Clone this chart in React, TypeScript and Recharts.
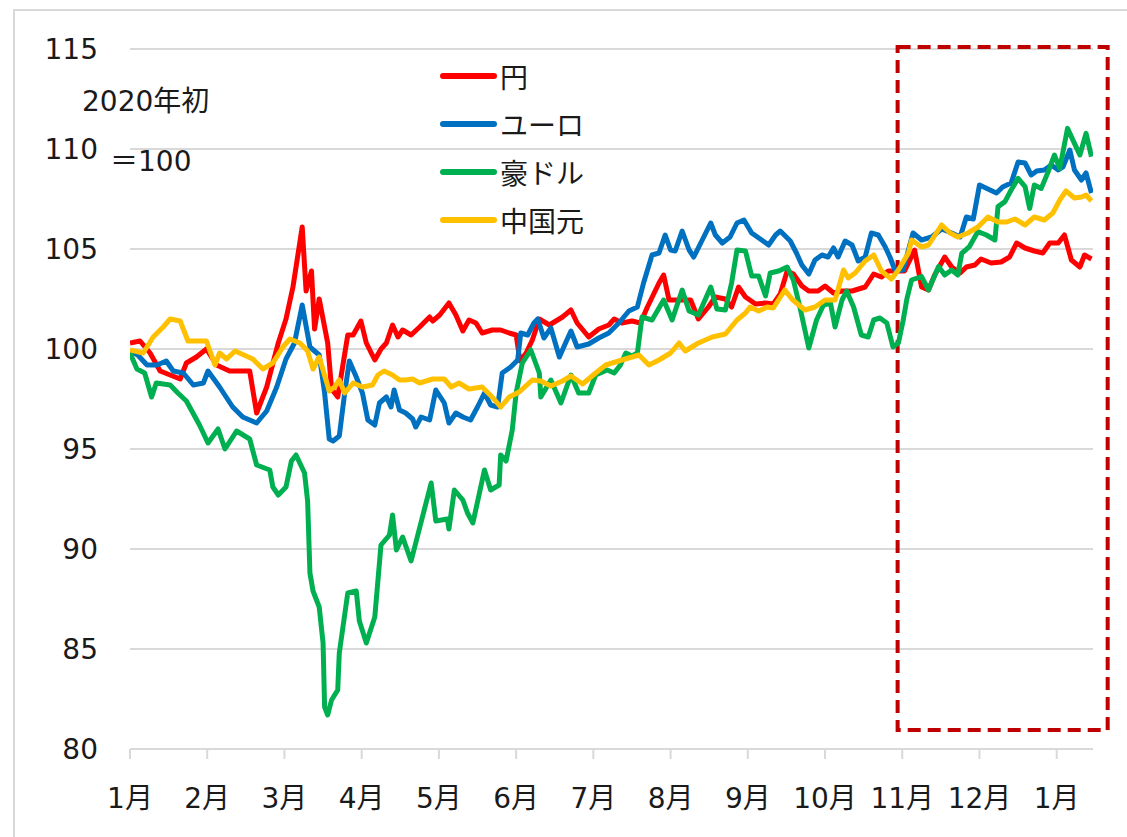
import React from 'react';
import {
  LineChart,
  Line,
  XAxis,
  YAxis,
  CartesianGrid,
  ReferenceArea,
  Legend,
} from 'recharts';

// x = months since start of 2020 (0 = 1月, 12 = 翌年1月)
const monthLabels = ['1月', '2月', '3月', '4月', '5月', '6月', '7月', '8月', '9月', '10月', '11月', '12月', '1月'];
const yTicks = [80, 85, 90, 95, 100, 105, 110, 115];

const yen: [number, number][] = [
  [0, 100.3], [0.13, 100.4], [0.26, 99.8], [0.39, 98.9], [0.52, 98.7], [0.65, 98.5], [0.73, 99.3], [0.86, 99.6],
  [0.99, 100.0], [1.12, 99.2], [1.29, 98.9], [1.55, 98.9], [1.64, 96.8], [1.77, 98.1], [1.92, 100.3], [2.02, 101.5],
  [2.11, 103.1], [2.23, 106.1], [2.28, 102.9], [2.35, 103.9], [2.39, 101.0], [2.45, 102.5], [2.56, 100.3], [2.61, 98.0],
  [2.69, 97.6], [2.82, 100.7], [2.89, 100.7], [2.99, 101.4], [3.06, 100.3], [3.17, 99.45], [3.25, 100.0], [3.32, 100.3],
  [3.4, 101.2], [3.47, 100.6], [3.53, 100.95], [3.64, 100.7], [3.75, 101.1], [3.88, 101.6], [3.92, 101.4], [4.01, 101.7],
  [4.13, 102.3], [4.22, 101.7], [4.31, 100.9], [4.39, 101.45], [4.48, 101.3], [4.56, 100.8], [4.69, 100.95], [4.8, 100.95],
  [4.91, 100.8], [5.0, 100.7], [5.05, 99.4], [5.13, 99.8], [5.21, 100.45], [5.3, 101.5], [5.43, 101.2], [5.6, 101.6],
  [5.71, 101.95], [5.79, 101.3], [5.94, 100.6], [6.07, 101.0], [6.2, 101.2], [6.27, 101.5], [6.37, 101.3], [6.5, 101.4],
  [6.61, 101.3], [6.7, 102.1], [6.85, 103.3], [6.91, 103.7], [6.98, 102.45], [7.15, 102.45], [7.26, 102.45], [7.36, 101.5],
  [7.49, 102.1], [7.58, 102.6], [7.71, 102.5], [7.79, 102.1], [7.88, 103.1], [7.97, 102.6], [8.1, 102.25], [8.23, 102.3],
  [8.33, 102.25], [8.42, 102.75], [8.51, 103.9], [8.59, 103.75], [8.7, 103.15], [8.79, 102.9], [8.91, 102.9], [9.0, 103.15],
  [9.11, 102.8], [9.22, 102.9], [9.35, 102.9], [9.52, 103.1], [9.63, 103.75], [9.73, 103.6], [9.82, 103.9], [9.91, 103.9],
  [10.03, 103.9], [10.16, 104.95], [10.25, 103.1], [10.34, 102.95], [10.42, 103.7], [10.55, 104.6], [10.64, 104.1],
  [10.75, 103.8], [10.83, 104.1], [10.94, 104.2], [11.02, 104.5], [11.15, 104.3], [11.28, 104.35], [11.39, 104.6],
  [11.48, 105.3], [11.59, 105.05], [11.71, 104.9], [11.82, 104.8], [11.91, 105.3], [12.02, 105.3], [12.1, 105.7],
  [12.19, 104.45], [12.3, 104.1], [12.36, 104.7], [12.45, 104.5],
];

const euro: [number, number][] = [
  [0, 99.9], [0.1, 99.7], [0.22, 99.2], [0.35, 99.2], [0.47, 99.4], [0.56, 98.9], [0.69, 98.8], [0.82, 98.2],
  [0.95, 98.3], [1.01, 98.9], [1.16, 98.1], [1.33, 97.1], [1.46, 96.6], [1.64, 96.3], [1.77, 96.9], [1.9, 98.1],
  [2.02, 99.5], [2.13, 100.3], [2.23, 102.2], [2.33, 100.1], [2.45, 99.7], [2.52, 97.8], [2.58, 95.5], [2.63, 95.4],
  [2.71, 95.65], [2.78, 97.8], [2.84, 99.4], [2.93, 98.6], [3.01, 97.8], [3.08, 96.45], [3.17, 96.2], [3.23, 97.3],
  [3.32, 97.6], [3.38, 97.1], [3.42, 97.95], [3.49, 96.95], [3.57, 96.8], [3.66, 96.5], [3.7, 96.1], [3.77, 96.6],
  [3.88, 96.45], [3.96, 97.95], [4.07, 97.3], [4.13, 96.3], [4.22, 96.8], [4.31, 96.6], [4.41, 96.45], [4.5, 97.1],
  [4.59, 97.8], [4.67, 97.2], [4.76, 97.1], [4.82, 98.8], [4.93, 99.1], [5.02, 99.45], [5.06, 100.8], [5.15, 100.7],
  [5.23, 101.3], [5.28, 101.5], [5.36, 100.55], [5.45, 101.05], [5.56, 99.6], [5.64, 100.3], [5.71, 100.9], [5.79, 100.1],
  [5.94, 100.25], [6.07, 100.55], [6.2, 100.8], [6.33, 101.3], [6.46, 101.9], [6.57, 102.1], [6.65, 103.3], [6.76, 104.7],
  [6.85, 104.8], [6.93, 105.7], [7.0, 104.95], [7.06, 104.9], [7.15, 105.9], [7.24, 104.95], [7.3, 104.6], [7.41, 105.45],
  [7.52, 106.3], [7.58, 105.7], [7.67, 105.3], [7.77, 105.6], [7.86, 106.3], [7.95, 106.45], [8.05, 105.8], [8.18, 105.45],
  [8.27, 105.2], [8.36, 105.7], [8.42, 105.9], [8.55, 105.4], [8.63, 104.8], [8.7, 104.2], [8.79, 103.75], [8.87, 104.45],
  [8.96, 104.7], [9.04, 104.6], [9.11, 105.05], [9.17, 104.6], [9.26, 105.4], [9.35, 105.2], [9.43, 104.4], [9.52, 104.6],
  [9.6, 105.8], [9.69, 105.7], [9.78, 105.1], [9.84, 104.6], [9.91, 103.9], [10.01, 103.95], [10.14, 105.8],
  [10.25, 105.45], [10.38, 105.6], [10.51, 106.0], [10.64, 105.8], [10.75, 105.6], [10.83, 106.6], [10.92, 106.5],
  [11.0, 108.2], [11.11, 108.0], [11.22, 107.8], [11.3, 108.1], [11.41, 108.3], [11.5, 109.35], [11.59, 109.3],
  [11.67, 108.7], [11.74, 108.9], [11.84, 108.95], [11.93, 109.2], [12.02, 108.95], [12.08, 109.1], [12.17, 109.95],
  [12.23, 108.95], [12.32, 108.45], [12.38, 108.8], [12.45, 107.8],
];

const aud: [number, number][] = [
  [0, 99.8], [0.09, 99.0], [0.19, 98.8], [0.28, 97.6], [0.34, 98.3], [0.52, 98.2], [0.62, 97.8], [0.73, 97.4],
  [0.9, 96.2], [1.01, 95.3], [1.14, 96.0], [1.23, 95.0], [1.38, 95.9], [1.55, 95.5], [1.64, 94.2], [1.81, 93.95],
  [1.85, 93.1], [1.92, 92.7], [2.02, 93.1], [2.09, 94.4], [2.15, 94.7], [2.26, 93.8], [2.3, 92.4], [2.33, 88.8],
  [2.37, 87.9], [2.45, 87.1], [2.5, 85.3], [2.52, 82.1], [2.56, 81.7], [2.61, 82.45], [2.69, 82.95], [2.71, 84.8],
  [2.82, 87.8], [2.93, 87.9], [2.97, 86.4], [3.06, 85.3], [3.17, 86.6], [3.25, 90.2], [3.36, 90.7], [3.4, 91.7],
  [3.45, 89.95], [3.53, 90.6], [3.64, 89.4], [3.72, 90.6], [3.9, 93.3], [3.96, 91.4], [4.11, 91.5], [4.13, 91.0],
  [4.2, 92.95], [4.31, 92.45], [4.37, 91.8], [4.44, 91.3], [4.59, 93.95], [4.67, 92.95], [4.78, 93.2], [4.8, 94.7],
  [4.87, 94.4], [4.95, 95.95], [5.0, 97.8], [5.08, 99.3], [5.19, 99.95], [5.3, 98.8], [5.32, 97.6], [5.45, 98.45],
  [5.58, 97.3], [5.71, 98.7], [5.81, 97.8], [5.94, 97.8], [6.03, 98.7], [6.18, 98.95], [6.27, 98.8], [6.35, 99.2],
  [6.42, 99.8], [6.5, 99.65], [6.57, 99.8], [6.63, 101.6], [6.76, 101.45], [6.91, 102.45], [7.02, 101.45], [7.15, 102.95],
  [7.24, 101.9], [7.36, 101.7], [7.52, 103.1], [7.6, 102.0], [7.71, 101.95], [7.79, 103.3], [7.86, 104.95], [7.97, 104.9],
  [8.05, 103.65], [8.14, 103.65], [8.23, 102.65], [8.29, 103.8], [8.4, 103.9], [8.51, 104.1], [8.59, 103.45], [8.68, 102.0],
  [8.79, 100.05], [8.89, 101.45], [8.98, 102.2], [9.07, 102.3], [9.13, 101.1], [9.22, 102.45], [9.28, 102.9], [9.37, 102.1],
  [9.47, 100.7], [9.56, 100.6], [9.63, 101.45], [9.71, 101.55], [9.8, 101.3], [9.88, 100.1], [9.95, 100.3], [10.01, 101.4],
  [10.06, 102.5], [10.12, 103.45], [10.25, 103.62], [10.34, 102.95], [10.47, 104.12], [10.55, 103.7], [10.64, 103.95],
  [10.72, 103.7], [10.77, 104.78], [10.87, 105.12], [10.98, 105.87], [11.09, 105.7], [11.2, 105.45], [11.24, 107.12],
  [11.33, 107.37], [11.41, 107.95], [11.5, 108.53], [11.59, 108.12], [11.65, 107.03], [11.71, 108.2], [11.8, 108.03],
  [11.89, 108.87], [11.97, 109.7], [12.04, 109.03], [12.14, 111.03], [12.23, 110.28], [12.3, 109.7], [12.38, 110.78],
  [12.45, 109.62],
];

const cny: [number, number][] = [
  [0, 99.95], [0.17, 99.8], [0.3, 100.6], [0.43, 101.1], [0.52, 101.5], [0.65, 101.4], [0.75, 100.4], [0.99, 100.4],
  [1.1, 99.2], [1.16, 99.8], [1.25, 99.5], [1.36, 99.9], [1.59, 99.5], [1.72, 99.0], [1.85, 99.3], [1.98, 100.1],
  [2.07, 100.5], [2.2, 100.3], [2.3, 99.9], [2.37, 99.0], [2.45, 99.6], [2.58, 97.9], [2.65, 98.1], [2.71, 98.45],
  [2.78, 97.8], [2.89, 98.3], [3.01, 98.1], [3.14, 98.2], [3.21, 98.7], [3.29, 98.9], [3.4, 98.7], [3.49, 98.45],
  [3.57, 98.45], [3.66, 98.5], [3.75, 98.3], [3.92, 98.5], [4.07, 98.5], [4.16, 98.1], [4.26, 98.3], [4.39, 98.0],
  [4.56, 98.1], [4.69, 97.6], [4.8, 97.1], [4.91, 97.6], [5.04, 97.85], [5.21, 98.45], [5.32, 98.4], [5.45, 98.15],
  [5.6, 98.4], [5.71, 98.65], [5.86, 98.25], [6.03, 98.8], [6.16, 99.2], [6.37, 99.45], [6.59, 99.7], [6.72, 99.2],
  [6.85, 99.45], [7.0, 99.8], [7.11, 100.3], [7.19, 99.9], [7.36, 100.3], [7.54, 100.6], [7.71, 100.75], [7.86, 101.45],
  [7.97, 101.8], [8.03, 102.1], [8.14, 101.9], [8.25, 102.1], [8.33, 102.05], [8.48, 102.95], [8.57, 102.5], [8.66, 102.2],
  [8.74, 101.95], [8.87, 102.1], [9.0, 102.45], [9.13, 102.45], [9.24, 103.95], [9.3, 103.55], [9.39, 103.8], [9.52, 104.4],
  [9.63, 104.7], [9.73, 103.9], [9.86, 103.5], [9.95, 103.95], [10.08, 104.8], [10.12, 105.45], [10.25, 105.1],
  [10.34, 105.2], [10.51, 106.2], [10.62, 105.8], [10.72, 105.6], [10.85, 105.8], [10.98, 106.1], [11.11, 106.6],
  [11.24, 106.35], [11.35, 106.35], [11.46, 106.5], [11.59, 106.2], [11.71, 106.6], [11.84, 106.45], [11.95, 106.8],
  [12.04, 107.45], [12.12, 107.9], [12.23, 107.55], [12.32, 107.6], [12.38, 107.7], [12.45, 107.4],
];

const seriesNames = ['円', 'ユーロ', '豪ドル', '中国元'];
const seriesColors = ['#FF0000', '#0070C0', '#00B050', '#FFC000'];
const seriesData = [yen, euro, aud, cny];

// highlighted period (dashed box), in data units
const boxX = [9.94, 12.66];
const boxY = [80.95, 115.1];

const FONT = "'DejaVu Sans', 'Noto Sans CJK JP', sans-serif";
const TEXT = '#1a1a1a';
const GRID = '#d9d9d9';

const toRows = (pts: [number, number][]) => pts.map(([t, v]) => ({ t, v }));

const LegendBox = () => (
  <div style={{ fontFamily: FONT, fontSize: 28, color: TEXT }}>
    {seriesNames.map((name, i) => (
      <div key={name} style={{ display: 'flex', alignItems: 'center', height: 48 }}>
        <span
          style={{
            display: 'inline-block',
            width: 57,
            height: 6,
            borderRadius: 3,
            background: seriesColors[i],
            marginRight: 3,
          }}
        />
        <span>{name}</span>
      </div>
    ))}
  </div>
);

const App = () => (
  <div
    style={{
      position: 'absolute',
      left: 0,
      top: 0,
      width: 1127,
      height: 837,
      overflow: 'hidden',
      background: '#fff',
      fontFamily: FONT,
    }}
  >
    <div
      style={{
        position: 'absolute',
        left: 13,
        top: 9,
        width: 1114,
        height: 828,
        borderTop: `2px solid ${GRID}`,
        borderLeft: `2px solid ${GRID}`,
        boxSizing: 'border-box',
      }}
    />
    <LineChart width={1127} height={837} margin={{ top: 49, right: 34, bottom: 28, left: 0 }}>
      <CartesianGrid vertical={false} stroke={GRID} strokeWidth={2} />
      <XAxis
        type="number"
        dataKey="t"
        domain={[0, 12.47]}
        allowDataOverflow
        ticks={monthLabels.map((_, i) => i)}
        tickFormatter={(i: number) => monthLabels[i]}
        interval={0}
        height={60}
        stroke={GRID}
        strokeWidth={2}
        tickSize={10}
        tickMargin={29}
        tick={{ fill: TEXT, fontSize: 28, fontFamily: FONT }}
      />
      <YAxis
        type="number"
        domain={[80, 115]}
        ticks={yTicks}
        width={130}
        axisLine={false}
        tickLine={false}
        tickSize={0}
        tickMargin={32}
        tick={{ fill: TEXT, fontSize: 28, fontFamily: FONT }}
      />
      <Legend
        layout="vertical"
        align="center"
        verticalAlign="middle"
        content={() => <LegendBox />}
        wrapperStyle={{ left: 440, top: 52, width: 200 }}
      />
      {seriesData.map((pts, i) => (
        <Line
          key={seriesNames[i]}
          data={toRows(pts)}
          dataKey="v"
          name={seriesNames[i]}
          type="linear"
          stroke={seriesColors[i]}
          strokeWidth={5}
          strokeLinejoin="round"
          dot={false}
          isAnimationActive={false}
        />
      ))}
      <ReferenceArea
        x1={boxX[0]}
        x2={boxX[1]}
        y1={boxY[0]}
        y2={boxY[1]}
        ifOverflow="visible"
        fill="none"
        stroke="#C00000"
        strokeWidth={4}
        strokeDasharray="13 7"
      />
    </LineChart>
    <div style={{ position: 'absolute', left: 82, top: 88, fontSize: 28, lineHeight: '28px', color: TEXT, whiteSpace: 'nowrap' }}>
      2020年初
    </div>
    <div style={{ position: 'absolute', left: 110, top: 148, fontSize: 28, lineHeight: '28px', color: TEXT, whiteSpace: 'nowrap' }}>
      ＝100
    </div>
  </div>
);

export default App;
